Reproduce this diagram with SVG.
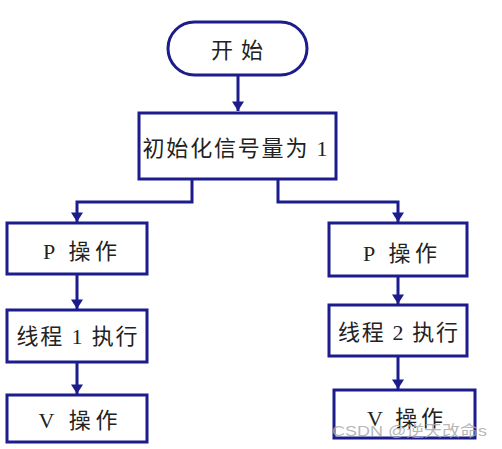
<svg xmlns="http://www.w3.org/2000/svg" width="502" height="449" viewBox="0 0 502 449">
<style>
.box{fill:#fff;stroke:#1c1c8c;stroke-width:3}
.t{font-family:"Liberation Serif","Noto Sans CJK SC",serif;font-size:22px;fill:#222;text-anchor:middle}
.c{fill:none;stroke:#1c1c8c;stroke-width:3}
.wm{font-family:"Liberation Sans","Noto Sans CJK SC",sans-serif;font-size:15px;fill:#aaa;fill-opacity:0.85}
</style>
<defs>
<marker id="ah" markerWidth="4" markerHeight="4" refX="3.2" refY="2" orient="auto" markerUnits="strokeWidth">
<path d="M0,0 L3.2,2 L0,4 Z" fill="#1c1c8c"/>
</marker>
</defs>
<rect width="502" height="449" fill="#fff"/>
<g id="connectors">
<path class="c" d="M238,75 V111" marker-end="url(#ah)"/>
<path class="c" d="M192,179 V202 H77 V222" marker-end="url(#ah)"/>
<path class="c" d="M278,179 V202 H398 V222" marker-end="url(#ah)"/>
<path class="c" d="M77,274 V309" marker-end="url(#ah)"/>
<path class="c" d="M77,362 V394" marker-end="url(#ah)"/>
<path class="c" d="M398,276 V304" marker-end="url(#ah)"/>
<path class="c" d="M398,356 V389" marker-end="url(#ah)"/>
</g>
<g id="start">
<rect class="box" x="168" y="22" width="139" height="53" rx="26.5"/>
<text class="t" x="237" y="58" font-size="23" textLength="52" lengthAdjust="spacing">开始</text>
</g>
<g id="init">
<rect class="box" x="139" y="113" width="197" height="66"/>
<text class="t" x="235" y="156" textLength="185" lengthAdjust="spacing">初始化信号量为 1</text>
</g>
<g id="p1">
<rect class="box" x="7" y="223" width="140" height="51"/>
<text class="t" x="80" y="259" font-size="23" textLength="74" lengthAdjust="spacing">P 操作</text>
</g>
<g id="run1">
<rect class="box" x="7" y="310" width="140" height="52"/>
<text class="t" x="77" y="344" textLength="121" lengthAdjust="spacing">线程 1 执行</text>
</g>
<g id="v1">
<rect class="box" x="7" y="395" width="140" height="47"/>
<text class="t" x="78" y="428" font-size="23" textLength="79" lengthAdjust="spacing">V 操作</text>
</g>
<g id="p2">
<rect class="box" x="329" y="223" width="138" height="53"/>
<text class="t" x="400" y="261" font-size="23" textLength="74" lengthAdjust="spacing">P 操作</text>
</g>
<g id="run2">
<rect class="box" x="329" y="305" width="138" height="51"/>
<text class="t" x="398" y="340" textLength="120" lengthAdjust="spacing">线程 2 执行</text>
</g>
<g id="v2">
<rect class="box" x="334" y="390" width="141" height="48"/>
<text class="t" x="405" y="426" font-size="23" textLength="76" lengthAdjust="spacing">V 操作</text>
</g>
<text class="wm" x="332" y="436" textLength="155" lengthAdjust="spacingAndGlyphs">CSDN @逆天改命s</text>
</svg>
